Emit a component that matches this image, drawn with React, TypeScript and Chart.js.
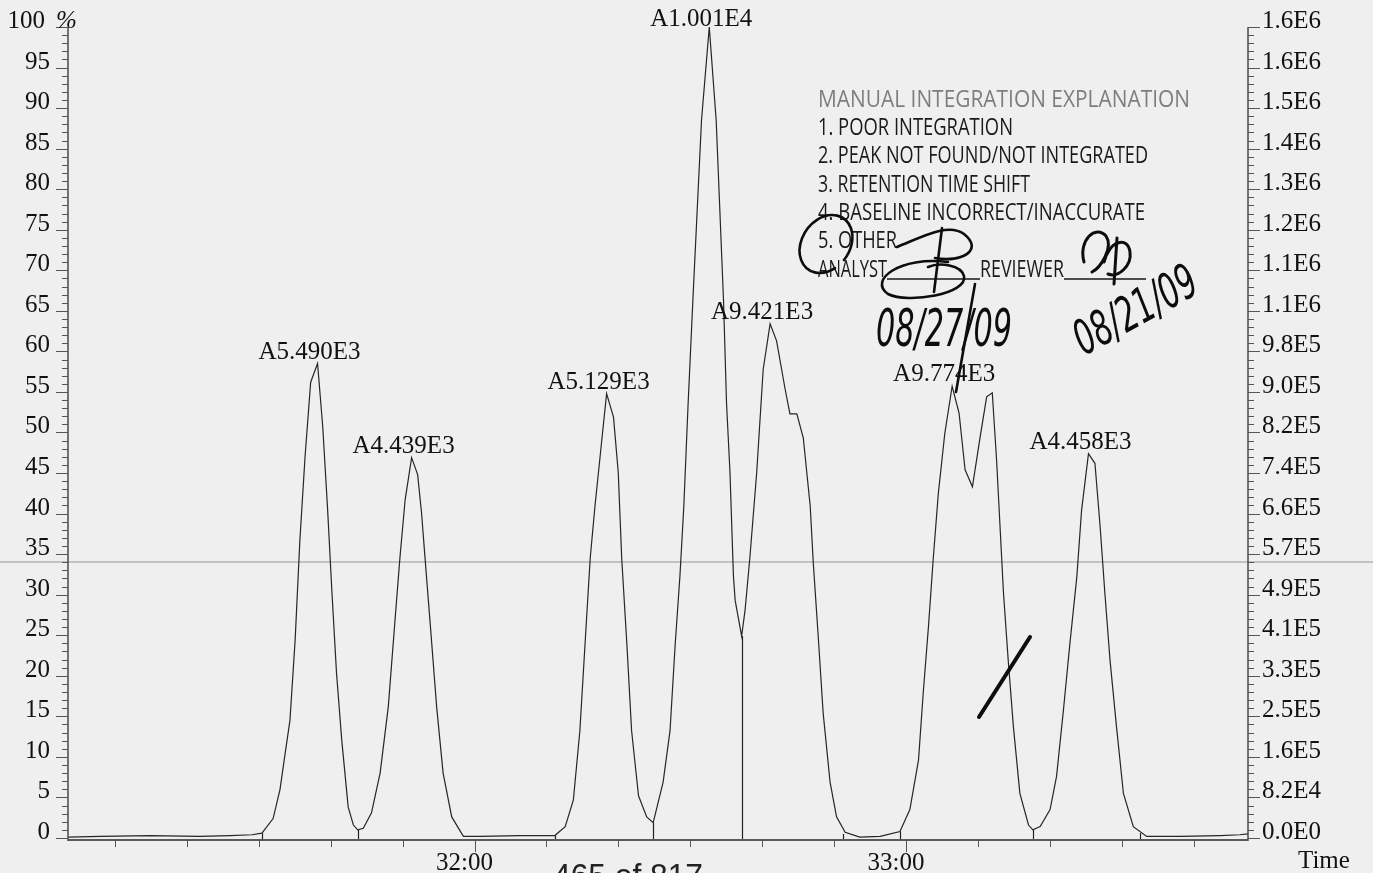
import React, { useEffect, useRef } from 'react';
import { Chart, registerables } from 'chart.js';

Chart.register(...registerables);

// ---------- data ----------
const traceTimes = [
  31.058, 31.132, 31.248, 31.363, 31.433, 31.484, 31.507, 31.533, 31.549, 31.561, 31.572, 31.584, 31.595, 31.607,
  31.620, 31.636, 31.648, 31.659, 31.669, 31.680, 31.692, 31.707, 31.719, 31.729, 31.742, 31.761, 31.781, 31.800,
  31.815, 31.827, 31.839, 31.854, 31.868, 31.877, 31.885, 31.897, 31.912, 31.927, 31.947, 31.974, 32.013, 32.105,
  32.163, 32.186, 32.210, 32.229, 32.244, 32.256, 32.268, 32.279, 32.292, 32.306, 32.322, 32.333, 32.341, 32.353,
  32.364, 32.380, 32.399, 32.414, 32.437, 32.453, 32.465, 32.476, 32.485, 32.495, 32.506, 32.526, 32.544, 32.560,
  32.577, 32.584, 32.592, 32.600, 32.604, 32.619, 32.627, 32.638, 32.654, 32.669, 32.685, 32.700, 32.720, 32.731,
  32.747, 32.762, 32.770, 32.778, 32.785, 32.797, 32.808, 32.824, 32.839, 32.859, 32.893, 32.940, 32.986, 33.009,
  33.029, 33.040, 33.052, 33.063, 33.075, 33.090, 33.107, 33.123, 33.137, 33.154, 33.172, 33.187, 33.200, 33.210,
  33.218, 33.226, 33.237, 33.249, 33.264, 33.284, 33.294, 33.311, 33.334, 33.349, 33.365, 33.380, 33.396, 33.407,
  33.423, 33.438, 33.450, 33.461, 33.473, 33.488, 33.504, 33.527, 33.558, 33.635, 33.728, 33.774, 33.793,
];
const traceValues = [
  0.1, 0.2, 0.3, 0.2, 0.3, 0.4, 0.6, 2.4, 6.0, 10.5, 14.5, 24.4, 36.7, 47.0,
  56.2, 58.5, 50.7, 40.8, 30.6, 20.3, 12.1, 3.8, 1.6, 1.0, 1.2, 3.1, 8.0, 16.2,
  26.5, 34.6, 41.7, 46.9, 44.8, 40.1, 34.6, 26.5, 16.2, 8.0, 2.6, 0.2, 0.2, 0.3,
  0.3, 0.3, 1.4, 4.7, 13.2, 23.9, 34.5, 40.9, 47.6, 54.8, 51.9, 45.1, 34.5, 23.9,
  13.2, 5.2, 2.6, 1.9, 6.9, 13.2, 23.9, 32.3, 40.9, 53.6, 66.3, 88.5, 100, 88.5,
  66.3, 53.6, 45.1, 32.3, 29.3, 24.9, 28.1, 34.5, 45.1, 57.8, 63.4, 61.3, 55.3, 52.3,
  52.3, 49.3, 45.1, 40.9, 34.0, 24.5, 15.4, 6.9, 2.6, 0.7, 0.1, 0.2, 0.8, 3.5,
  9.6, 17.9, 26.0, 34.3, 42.5, 49.9, 55.7, 52.4, 45.4, 43.3, 49.5, 54.4, 54.9, 46.6,
  38.4, 30.2, 21.9, 13.7, 5.5, 1.6, 1.0, 1.4, 3.5, 7.6, 15.8, 24.0, 32.2, 40.4,
  47.4, 46.2, 38.4, 30.2, 21.9, 13.7, 5.5, 1.4, 0.2, 0.2, 0.3, 0.4, 0.5,
];

const peakTimes = [31.636, 31.854, 32.306, 32.544, 32.685, 33.107, 33.423];
const peakHeights = [58.5, 46.9, 54.8, 100, 63.4, 55.7, 47.4];
const peakLabels = ['A5.490E3', 'A4.439E3', 'A5.129E3', 'A1.001E4', 'A9.421E3', 'A9.774E3', 'A4.458E3'];

const dropTimes = [31.729, 32.414, 32.619, 33.294];
const dropHeights = [1.0, 1.9, 24.9, 1.0];
const markerTimes = [31.507, 32.186, 32.854, 32.986, 33.542];
const markerHeights = [0.6, 0.3, 0.5, 0.8, 0.6];

const leftTickValues = [0, 5, 10, 15, 20, 25, 30, 35, 40, 45, 50, 55, 60, 65, 70, 75, 80, 85, 90, 95, 100];
const leftTickLabels = ['0', '5', '10', '15', '20', '25', '30', '35', '40', '45', '50', '55', '60', '65', '70', '75', '80', '85', '90', '95', '100'];
const rightTickLabels = [
  '0.0E0', '8.2E4', '1.6E5', '2.5E5', '3.3E5', '4.1E5', '4.9E5', '5.7E5', '6.6E5', '7.4E5', '8.2E5',
  '9.0E5', '9.8E5', '1.1E6', '1.1E6', '1.2E6', '1.3E6', '1.4E6', '1.5E6', '1.6E6', '1.6E6',
];
const xTickValues = [32, 33];
const xTickLabels = ['32:00', '33:00'];
const X_MIN = 31.0575;
const X_MAX = 33.7928;

const stampLines = [
  'MANUAL INTEGRATION EXPLANATION',
  '1. POOR INTEGRATION',
  '2. PEAK NOT FOUND/NOT INTEGRATED',
  '3. RETENTION TIME SHIFT',
  '4. BASELINE INCORRECT/INACCURATE',
  '5. OTHER',
];

// ---------- helpers ----------
const SERIF = '25px "Liberation Serif", "DejaVu Serif", serif';

function fitText(ctx: CanvasRenderingContext2D, text: string, x: number, y: number, w: number) {
  const m = ctx.measureText(text).width || 1;
  ctx.save();
  ctx.translate(x, y);
  ctx.scale(w / m, 1);
  ctx.fillText(text, 0, 0);
  ctx.restore();
}

const decor = {
  id: 'decor',
  beforeDraw(chart: any) {
    const ctx = chart.ctx;
    ctx.save();
    ctx.fillStyle = '#efefef';
    ctx.fillRect(0, 0, chart.width, chart.height);
    ctx.restore();
  },
  beforeDatasetsDraw(chart: any) {
    const ctx: CanvasRenderingContext2D = chart.ctx;
    const { x, y } = chart.scales;
    const area = chart.chartArea;
    ctx.save();
    // scanner streak
    ctx.fillStyle = 'rgba(150,150,150,0.5)';
    ctx.fillRect(0, 561, chart.width, 2);
    // x axis line
    ctx.strokeStyle = '#5a5a5a';
    ctx.lineWidth = 2;
    ctx.beginPath();
    ctx.moveTo(area.left, area.bottom - 1);
    ctx.lineTo(area.right, area.bottom - 1);
    ctx.stroke();
    // drop lines and peak markers
    ctx.strokeStyle = '#222';
    ctx.lineWidth = 1.2;
    const y0 = y.getPixelForValue(0);
    dropTimes.forEach((t, i) => {
      const px = Math.round(x.getPixelForValue(t)) + 0.5;
      ctx.beginPath();
      ctx.moveTo(px, y.getPixelForValue(dropHeights[i]));
      ctx.lineTo(px, y0 + 1);
      ctx.stroke();
    });
    markerTimes.forEach((t, i) => {
      const px = Math.round(x.getPixelForValue(t)) + 0.5;
      ctx.beginPath();
      ctx.moveTo(px, y.getPixelForValue(markerHeights[i]));
      ctx.lineTo(px, y0 + 1);
      ctx.stroke();
    });
    ctx.restore();
  },
  afterDatasetsDraw(chart: any) {
    const ctx: CanvasRenderingContext2D = chart.ctx;
    const { x, y } = chart.scales;
    const area = chart.chartArea;
    ctx.save();

    // ---- axes ----
    ctx.strokeStyle = '#4a4a4a';
    ctx.lineWidth = 1.5;
    ctx.beginPath();
    ctx.moveTo(area.left, area.top);
    ctx.lineTo(area.left, area.bottom);
    ctx.stroke();
    ctx.beginPath();
    ctx.moveTo(area.right, area.top);
    ctx.lineTo(area.right, area.bottom);
    ctx.stroke();

    ctx.lineWidth = 1;
    ctx.strokeStyle = '#555';
    for (let v = 0; v <= 100; v++) {
      const py = Math.round(y.getPixelForValue(v)) + 0.5;
      const major = v % 5 === 0;
      ctx.beginPath();
      ctx.moveTo(area.left - (major ? 12 : 6), py);
      ctx.lineTo(area.left, py);
      ctx.stroke();
      ctx.beginPath();
      ctx.moveTo(area.right, py);
      ctx.lineTo(area.right + (major ? 12 : 6), py);
      ctx.stroke();
    }

    ctx.fillStyle = '#111';
    ctx.font = SERIF;
    ctx.textBaseline = 'alphabetic';
    leftTickValues.forEach((v, i) => {
      const py = y.getPixelForValue(v);
      if (v === 100) {
        ctx.textAlign = 'right';
        ctx.fillText(leftTickLabels[i], area.left - 23, py + 1);
        ctx.textAlign = 'left';
        ctx.font = 'italic ' + SERIF;
        ctx.fillText('%', area.left - 12, py + 1);
        ctx.font = SERIF;
      } else {
        ctx.textAlign = 'right';
        ctx.fillText(leftTickLabels[i], area.left - 18, py + 1);
      }
      ctx.textAlign = 'left';
      ctx.fillText(rightTickLabels[i], area.right + 14, py + 1);
    });

    // ---- x ticks ----
    ctx.strokeStyle = '#555';
    ctx.lineWidth = 1;
    for (let i = 1; i <= 16; i++) {
      const t = 31 + i / 6;
      const px = Math.round(x.getPixelForValue(t)) + 0.5;
      const major = i % 6 === 0;
      ctx.beginPath();
      ctx.moveTo(px, area.bottom - 1);
      ctx.lineTo(px, area.bottom + (major ? 11 : 6));
      ctx.stroke();
    }
    ctx.textAlign = 'center';
    xTickValues.forEach((v, i) => {
      ctx.fillText(xTickLabels[i], x.getPixelForValue(v) - 10, 870);
    });
    ctx.textAlign = 'left';
    ctx.fillText('Time', 1298, 868);

    // ---- peak labels ----
    ctx.textAlign = 'center';
    peakTimes.forEach((t, i) => {
      const px = x.getPixelForValue(t) - 8;
      const py = Math.max(y.getPixelForValue(peakHeights[i]) - 5, 26);
      ctx.fillText(peakLabels[i], px, py);
    });

    // ---- page footer ----
    ctx.textAlign = 'left';
    ctx.font = '34px "Liberation Sans", Arial, sans-serif';
    ctx.fillStyle = '#222';
    fitText(ctx, '465 of 817', 553, 887, 150);

    // ---- stamp ----
    const stampBase = [107, 135, 163, 192, 220, 248];
    const stampWidths = [372, 195, 330, 212, 327, 79];
    ctx.font = '500 23px "Open Sans", "Liberation Sans", Arial, sans-serif';
    stampLines.forEach((s, i) => {
      ctx.fillStyle = i === 0 ? '#7e7e7e' : '#1a1a1a';
      fitText(ctx, s, 818, stampBase[i], stampWidths[i]);
    });
    ctx.fillStyle = '#1a1a1a';
    fitText(ctx, 'ANALYST', 818, 277, 69);
    fitText(ctx, 'REVIEWER', 980, 277, 84);
    ctx.strokeStyle = '#1a1a1a';
    ctx.lineWidth = 1.5;
    ctx.beginPath();
    ctx.moveTo(887, 279); ctx.lineTo(980, 279);
    ctx.moveTo(1064, 279); ctx.lineTo(1146, 279);
    ctx.stroke();

    // ---- handwriting ----
    ctx.strokeStyle = '#0d0d0d';
    ctx.lineCap = 'round';
    ctx.lineJoin = 'round';
    ctx.lineWidth = 2.6;
    // circle round "5."
    ctx.beginPath();
    ctx.ellipse(826, 244, 24, 31, 0.6, 0.5, Math.PI * 2 + 0.1);
    ctx.stroke();
    // analyst initials
    ctx.beginPath();
    ctx.moveTo(897, 247);
    ctx.bezierCurveTo(920, 238, 948, 222, 964, 234);
    ctx.bezierCurveTo(984, 250, 962, 263, 935, 258);
    ctx.stroke();
    ctx.beginPath();
    ctx.moveTo(942, 228);
    ctx.lineTo(934, 292);
    ctx.stroke();
    ctx.beginPath();
    ctx.moveTo(948, 262);
    ctx.bezierCurveTo(900, 256, 868, 280, 888, 294);
    ctx.bezierCurveTo(908, 304, 968, 294, 964, 276);
    ctx.bezierCurveTo(961, 265, 940, 262, 928, 267);
    ctx.stroke();
    // reviewer initials
    ctx.lineWidth = 3;
    ctx.beginPath();
    ctx.moveTo(1084, 262);
    ctx.bezierCurveTo(1078, 240, 1096, 224, 1106, 236);
    ctx.bezierCurveTo(1114, 248, 1100, 268, 1092, 272);
    ctx.stroke();
    ctx.beginPath();
    ctx.moveTo(1104, 262);
    ctx.bezierCurveTo(1110, 240, 1128, 236, 1130, 252);
    ctx.bezierCurveTo(1132, 266, 1118, 278, 1108, 274);
    ctx.stroke();
    ctx.beginPath();
    ctx.moveTo(1117, 238);
    ctx.lineTo(1114, 284);
    ctx.stroke();
    // dates
    ctx.lineWidth = 2.6;
    ctx.fillStyle = '#0d0d0d';
    ctx.font = 'italic 52px "DejaVu Sans", sans-serif';
    fitText(ctx, '08/27/09', 876, 346, 136);
    ctx.beginPath();
    ctx.moveTo(975, 284);
    ctx.lineTo(956, 392);
    ctx.stroke();
    ctx.save();
    ctx.translate(1084, 356);
    ctx.rotate(-0.5);
    ctx.font = 'italic 48px "DejaVu Sans", sans-serif';
    fitText(ctx, '08/21/09', 0, 0, 134);
    ctx.restore();
    // check stroke
    ctx.lineWidth = 4;
    ctx.beginPath();
    ctx.moveTo(979, 717);
    ctx.lineTo(1030, 637);
    ctx.stroke();

    ctx.restore();
  },
};

export default function App() {
  const ref = useRef<HTMLCanvasElement | null>(null);
  useEffect(() => {
    if (!ref.current) return;
    const chart = new Chart(ref.current, {
      type: 'line',
      data: {
        datasets: [
          {
            data: traceTimes.map((t, i) => ({ x: t, y: traceValues[i] })),
            borderColor: '#262626',
            borderWidth: 1.2,
            pointRadius: 0,
            tension: 0,
            fill: false,
          },
        ],
      },
      options: {
        responsive: false,
        animation: false,
        events: [],
        layout: { padding: { top: 27, left: 0, right: 0, bottom: 0 } },
        plugins: { legend: { display: false }, tooltip: { enabled: false } },
        scales: {
          x: {
            type: 'linear',
            min: X_MIN,
            max: X_MAX,
            grid: { display: false },
            border: { display: false },
            ticks: { display: false },
            afterFit: (s: any) => { s.height = 32; },
          },
          y: {
            type: 'linear',
            position: 'left',
            min: -0.37,
            max: 100,
            grid: { display: false },
            border: { display: false },
            ticks: { display: false },
            afterFit: (s: any) => { s.width = 68; },
          },
          y2: {
            type: 'linear',
            position: 'right',
            min: -0.37,
            max: 100,
            grid: { display: false },
            border: { display: false },
            ticks: { display: false },
            afterFit: (s: any) => { s.width = 125; },
          },
        },
      } as any,
      plugins: [decor],
    });
    return () => chart.destroy();
  }, []);
  return (
    <div style={{ position: 'fixed', left: 0, top: 0, width: 1373, height: 873 }}>
      <canvas ref={ref} width={1373} height={873} style={{ display: 'block' }} />
    </div>
  );
}
